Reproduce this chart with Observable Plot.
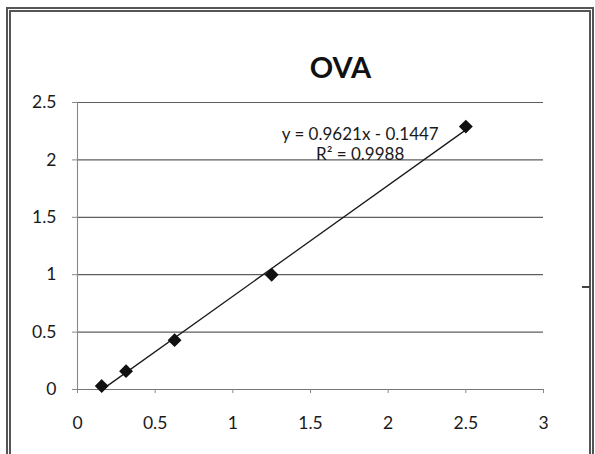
<!DOCTYPE html>
<html>
<head>
<meta charset="utf-8">
<script src="https://cdn.jsdelivr.net/npm/d3@7"></script>
<script src="https://cdn.jsdelivr.net/npm/@observablehq/plot@0.6"></script>
<style>
  html, body { margin: 0; padding: 0; background: #fff; }
  #wrap { position: relative; width: 595px; height: 454px; overflow: hidden; background: #fff; }
  #frame { position: absolute; left: 6px; top: 7px; width: 578px; height: 470px;
           border: 5px double #555; border-bottom: none; pointer-events: none; }
  #legendStub { position: absolute; left: 582px; top: 286px; width: 8px; height: 2px; background: #444; }
  svg { position: absolute; left: 0; top: 0; }
</style>
</head>
<body>
<div id="wrap"></div>
<script>
const title = "OVA";
const concentration = [0.156, 0.3125, 0.625, 1.25, 2.5];
const absorbance = [0.03, 0.16, 0.43, 1.0, 2.29];
const xTicks = [0, 0.5, 1, 1.5, 2, 2.5, 3];
const yTicks = [0, 0.5, 1, 1.5, 2, 2.5];
const equationLines = ["y = 0.9621x - 0.1447", "R\u00B2 = 0.9988"];

const data = concentration.map((x, i) => ({x, y: absorbance[i]}));
const font = "Lato, 'Open Sans', sans-serif";

const chart = Plot.plot({
  width: 595,
  height: 454,
  marginTop: 102,
  marginBottom: 65,
  marginLeft: 77,
  marginRight: 52,
  style: {fontFamily: font, background: "transparent", color: "#1a1a1a"},
  x: {domain: [0, 3], ticks: xTicks},
  y: {domain: [0, 2.5], ticks: yTicks},
  marks: [
    Plot.gridY(yTicks, {stroke: "#5e5e5e", strokeOpacity: 1, strokeWidth: 1.2}),
    Plot.ruleX([0], {stroke: "#888", strokeWidth: 1.1}),
    Plot.ruleY([0], {stroke: "#777", strokeWidth: 1.2}),
    Plot.axisX({ticks: xTicks, tickSize: 4, tickPadding: 23, fontSize: 17.5, stroke: "#888", label: null, tickFormat: d => String(d)}),
    Plot.axisY({ticks: yTicks, tickSize: 5, tickPadding: 16, fontSize: 17.5, stroke: "#888", label: null, tickFormat: d => String(d)}),
    Plot.linearRegressionY(data, {x: "x", y: "y", stroke: "#1a1a1a", strokeWidth: 1.3, ci: 0}),
    Plot.dot(data, {x: "x", y: "y", symbol: "diamond2", r: 5.3, fill: "#111", stroke: "#111"}),
    Plot.text([equationLines.join("\n")], {x: 1.82, y: 2.143, fontSize: 17, lineHeight: 1.18, textAnchor: "middle", fill: "#1a1a1a"}),
    Plot.text([title], {frameAnchor: "top", dx: 30, dy: -45, fontSize: 29, fontWeight: "bold", fill: "#111"})
  ]
});

const wrap = document.getElementById("wrap");
wrap.appendChild(chart);
const frame = document.createElement("div"); frame.id = "frame"; wrap.appendChild(frame);
const stub = document.createElement("div"); stub.id = "legendStub"; wrap.appendChild(stub);
</script>
</body>
</html>
